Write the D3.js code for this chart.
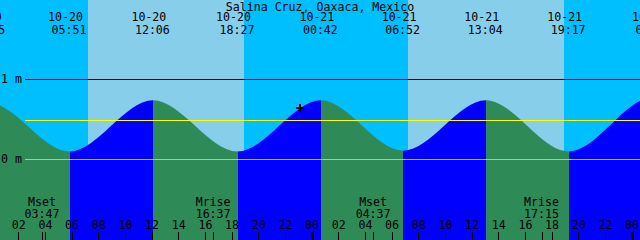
<!DOCTYPE html>
<html>
<head>
<meta charset="utf-8">
<script src="https://cdn.jsdelivr.net/npm/d3@7"></script>
<style>
html,body{margin:0;padding:0;background:#fff;}
svg{display:block;}
text{font-family:"DejaVu Sans Mono",monospace;font-size:11.6px;fill:#000;}
</style>
</head>
<body>
<svg id="chart" width="640" height="240"></svg>
<script>
// ---- data ----
const title = "Salina Cruz, Oaxaca, Mexico";
const windowStart = "10-20 00:38";
const windowEnd = "10-22 00:38";
const extremeTimes = ["10-19 17:20","10-19 23:45","10-20 05:51","10-20 12:06","10-20 18:27","10-21 00:42","10-21 06:52","10-21 13:04","10-21 19:17","10-22 01:39","10-22 07:55"];
const extremeHeights = [0.10, 0.71, 0.10, 0.74, 0.10, 0.74, 0.11, 0.74, 0.10, 0.78, 0.12];
const sunriseTimes = ["10-20 07:14","10-21 07:14"];
const sunsetTimes = ["10-19 18:57","10-20 18:57","10-21 18:57"];
const moonEvents = ["Mset","Mrise","Mset","Mrise"];
const moonTimes = ["10-20 03:47","10-20 16:37","10-21 04:37","10-21 17:15"];
const levelValues = [0, 1];
const levelLabels = ["0 m", "1 m"];
const meanLevel = 0.49;
const nowTime = "10-20 23:08";
const nowHeight = 0.64;

// ---- setup ----
const W = 640, H = 240;
const parse = d3.utcParse("%m-%d %H:%M");
const x = d3.scaleUtc().domain([parse(windowStart), parse(windowEnd)]).range([0, W]);
const y = d3.scaleLinear().domain([0, 1]).range([159.5, 79.5]);
const svg = d3.select("#chart");

const colNight = "#00BFFF", colDay = "#87CEEB", colRise = "#0000FF", colFall = "#2E8B57";

// background night
svg.append("rect").attr("x",0).attr("y",0).attr("width",W).attr("height",H).attr("fill",colNight);
// day bands
const sunsets = sunsetTimes.map(parse), sunrises = sunriseTimes.map(parse);
sunrises.forEach(sr => {
  const ss = sunsets.find(s => s > sr);
  const x0 = Math.round(x(sr)), x1 = Math.round(x(ss));
  svg.append("rect").attr("x",x0).attr("y",0).attr("width",x1-x0).attr("height",H)
    .attr("fill",colDay).attr("shape-rendering","crispEdges");
});

// tide curve
const pts = extremeTimes.map((t,i)=>({t:parse(t), h:extremeHeights[i]}));
const area = d3.area().x(d=>x(d.t)).y0(H).y1(d=>y(d.h)).curve(d3.curveMonotoneX);
svg.append("clipPath").attr("id","tideClip").append("path").attr("d", area(pts));
const fillG = svg.append("g").attr("clip-path","url(#tideClip)");
for (let i=0;i<pts.length-1;i++){
  const x0 = Math.round(x(pts[i].t)), x1 = Math.round(x(pts[i+1].t));
  fillG.append("rect").attr("x",x0).attr("y",0).attr("width",x1-x0).attr("height",H)
    .attr("fill", pts[i+1].h > pts[i].h ? colRise : colFall).attr("shape-rendering","crispEdges");
}

// level lines
const lineY = v => Math.floor(y(v)) + 0.5;
svg.append("line").attr("x1",25).attr("x2",W).attr("y1",lineY(meanLevel)).attr("y2",lineY(meanLevel))
  .attr("stroke","#FFFF00").attr("stroke-width",1).attr("shape-rendering","crispEdges");
levelValues.forEach((v,i)=>{
  svg.append("line").attr("x1",25).attr("x2",W).attr("y1",lineY(v)).attr("y2",lineY(v))
    .attr("stroke", v===0 ? colDay : "#000").attr("stroke-width",1).attr("shape-rendering","crispEdges");
  svg.append("text").attr("x",1).attr("y",lineY(v)+3.5).text(levelLabels[i]);
});

// title
svg.append("text").attr("x",W/2).attr("y",10.5).attr("text-anchor","middle").text(title);

// extreme labels
const fDate = d3.utcFormat("%m-%d"), fTime = d3.utcFormat("%H:%M");
pts.forEach(p=>{
  const px = x(p.t);
  svg.append("text").attr("x",px-4).attr("y",21.3).attr("text-anchor","middle").text(fDate(p.t));
  svg.append("text").attr("x",px-0.5).attr("y",33.5).attr("text-anchor","middle").text(fTime(p.t));
});

// now marker
const nx = Math.round(x(parse(nowTime))), ny = Math.round(y(nowHeight));
svg.append("path").attr("d",`M${nx-4},${ny}H${nx+4}M${nx},${ny-4}V${ny+4}`)
  .attr("stroke","#000").attr("stroke-width",2).attr("fill","none").attr("shape-rendering","crispEdges");

// moon events
moonTimes.forEach((t,i)=>{
  const mx = x(parse(t));
  svg.append("text").attr("x",mx).attr("y",206.3).attr("text-anchor","middle").text(moonEvents[i]);
  svg.append("text").attr("x",mx).attr("y",217.8).attr("text-anchor","middle").text(fTime(parse(t)));
  svg.append("line").attr("x1",Math.round(mx)+0.5).attr("x2",Math.round(mx)+0.5).attr("y1",232).attr("y2",H)
    .attr("stroke","#000").attr("stroke-width",1).attr("shape-rendering","crispEdges");
});

// hour axis
const ax = svg.append("g").attr("transform",`translate(0,${H})`)
  .call(d3.axisTop(x).ticks(d3.utcHour.every(2)).tickFormat(d3.utcFormat("%H")).tickSize(8).tickPadding(3));
ax.select(".domain").remove();
ax.attr("font-family",null).attr("font-size",null);
ax.selectAll(".tick text").attr("fill","#000").style("font-family","'DejaVu Sans Mono',monospace").style("font-size","11.6px");
ax.selectAll(".tick line").attr("stroke","#000").attr("shape-rendering","crispEdges")
  .attr("stroke-width", d => d.getUTCHours()===0 ? 3 : 1);
</script>
</body>
</html>
